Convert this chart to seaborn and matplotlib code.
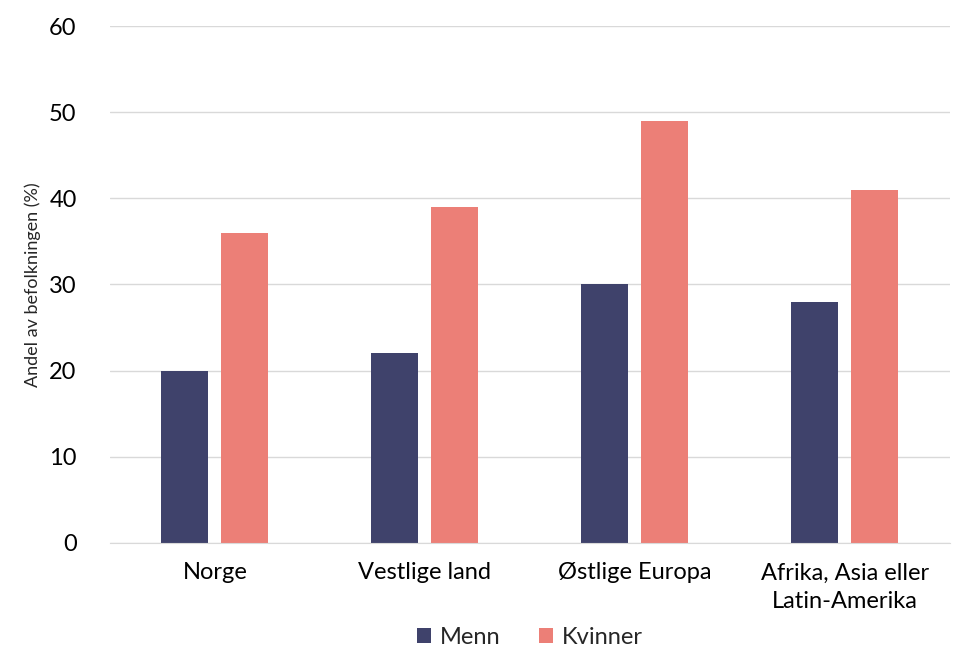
import matplotlib
matplotlib.use("Agg")
import matplotlib.pyplot as plt
import pandas as pd
import seaborn as sns

# data
regions = ["Norge", "Vestlige land", "Østlige Europa", "Afrika, Asia eller\nLatin-Amerika"]
menn = [20, 22, 30, 28]
kvinner = [36, 39, 49, 41]
series = ["Menn", "Kvinner"]
colors = ["#3F426B", "#EC7F77"]

df = pd.DataFrame({
    "region": regions * 2,
    "kjonn": ["Menn"] * len(regions) + ["Kvinner"] * len(regions),
    "andel": menn + kvinner,
})

sns.set_style("white")
plt.rcParams["font.family"] = ["Lato", "DejaVu Sans"]

fig = plt.figure(figsize=(9.7, 6.67), dpi=100)
ax = fig.add_axes([0.1134, 0.186, 0.8656, 0.775])

sns.barplot(data=df, x="region", y="andel", hue="kjonn", hue_order=series,
            palette=colors, width=0.572, gap=0.217, saturation=1,
            errorbar=None, linewidth=0, ax=ax)

ax.set_ylim(0, 60)
ax.set_xlim(-0.5, len(regions) - 0.5)
ax.set_yticks(range(0, 61, 10))
ax.yaxis.grid(True, color="#d9d9d9", linewidth=1)
ax.set_axisbelow(True)
for s in ["top", "right", "left"]:
    ax.spines[s].set_visible(False)
ax.spines["bottom"].set_color("#d9d9d9")
ax.tick_params(axis="both", length=0, labelsize=17, colors="black")
ax.tick_params(axis="y", pad=24)
ax.tick_params(axis="x", pad=14)
for lbl in ax.get_xticklabels():
    lbl.set_linespacing(1.45)
ax.set_xlabel("")
ax.set_ylabel("Andel av befolkningen (%)", fontsize=13, labelpad=6)

# legend centred under the plot area
ax.legend_.remove()
handles, labels = ax.get_legend_handles_labels()
ax.legend(handles, labels, loc="center", bbox_to_anchor=(0.5, -0.183), ncol=2,
          frameon=False, fontsize=17, handlelength=0.6, handleheight=0.6,
          handletextpad=0.4, columnspacing=1.6)

fig.savefig("out.png", dpi=100)
